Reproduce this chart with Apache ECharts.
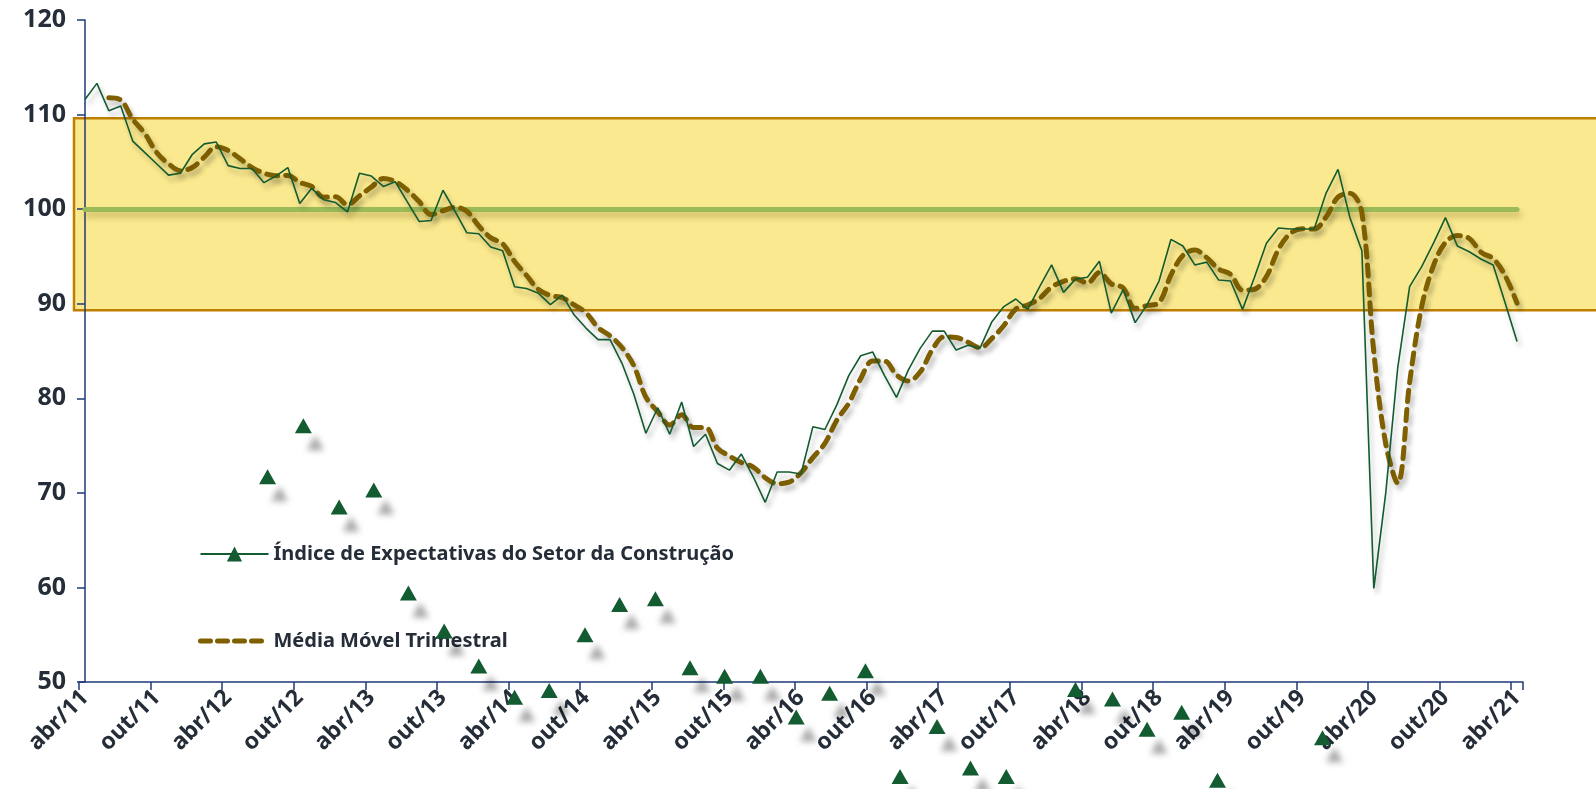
<!DOCTYPE html>
<html>
<head>
<meta charset="utf-8">
<script src="https://cdn.jsdelivr.net/npm/echarts/dist/echarts.min.js"></script>
<style>
  html, body { margin: 0; padding: 0; background: #fff; }
  #chart { width: 1596px; height: 789px; }
</style>
</head>
<body>
<div id="chart"></div>
<script>
// rótulos mensais abr/11 .. abr/21
var monthNames = ['jan', 'fev', 'mar', 'abr', 'mai', 'jun', 'jul', 'ago', 'set', 'out', 'nov', 'dez'];
var months = [];
for (var k = 0; k < 121; k++) {
    var m = (3 + k) % 12;
    var y = 11 + Math.floor((3 + k) / 12);
    months.push(monthNames[m] + '/' + y);
}

var idxName = 'Índice de Expectativas do Setor da Construção';
var maName = 'Média Móvel Trimestral';

// Índice de Expectativas (mensal)
var idxValues = [
    111.6, 113.3, 110.4, 110.9, 107.2, 106.0, 104.8, 103.6, 103.8, 105.8,
    106.9, 107.1, 104.6, 104.3, 104.3, 102.8, 103.5, 104.4, 100.6, 102.2,
    101.0, 100.7, 99.7, 103.8, 103.5, 102.4, 102.9, 100.8, 98.7, 98.8,
    102.0, 99.8, 97.5, 97.4, 96.0, 95.6, 91.8, 91.6, 91.1, 89.9,
    90.9, 88.8, 87.4, 86.2, 86.2, 83.7, 80.4, 76.3, 79.0, 76.2,
    79.6, 74.9, 76.2, 73.1, 72.4, 74.1, 71.7, 69.0, 72.2, 72.2,
    72.0, 77.0, 76.7, 79.3, 82.4, 84.5, 84.9, 82.4, 80.1, 83.0,
    85.3, 87.1, 87.1, 85.1, 85.6, 85.3, 88.1, 89.7, 90.5, 89.4,
    91.8, 94.1, 91.2, 92.6, 92.8, 94.5, 89.0, 91.5, 88.0, 89.9,
    92.4, 96.8, 96.1, 94.1, 94.4, 92.5, 92.4, 89.4, 92.8, 96.4,
    98.0, 97.9, 97.9, 97.9, 101.7, 104.2, 99.1, 95.6, 59.9, 70.0,
    83.2, 91.8, 93.9, 96.4, 99.1, 96.1, 95.5, 94.7, 94.1, 90.1, 86.0
];

// Média móvel trimestral
var maValues = [
    null, null,
    111.77, 111.53, 109.5, 108.03, 106.0, 104.8, 104.07, 104.4, 105.5, 106.6,
    106.2, 105.33, 104.4, 103.8, 103.53, 103.57, 102.83, 102.4, 101.27, 101.3,
    100.47, 101.4, 102.33, 103.23, 102.93, 102.03, 100.8, 99.43, 99.83, 100.2,
    99.77, 98.23, 96.97, 96.33, 94.47, 93.0, 91.5, 90.87, 90.63, 89.87,
    89.03, 87.47, 86.6, 85.37, 83.43, 80.13, 78.57, 77.17, 78.27, 76.9,
    76.9, 74.73, 73.9, 73.2, 72.73, 71.6, 70.97, 71.13, 72.13, 73.73,
    75.23, 77.67, 79.47, 82.07, 83.93, 83.93, 82.47, 81.83, 82.8, 85.13,
    86.5, 86.43, 85.93, 85.33, 86.33, 87.7, 89.43, 89.87, 90.57, 91.77,
    92.37, 92.63, 92.2, 93.3, 92.1, 91.67, 89.5, 89.8, 90.1, 93.03,
    95.1, 95.67, 94.87, 93.67, 93.1, 91.43, 91.53, 92.87, 95.73, 97.43,
    97.93, 97.9, 99.17, 101.27, 101.67, 99.63, 84.87, 75.17, 71.03, 81.67,
    89.63, 94.03, 96.47, 97.2, 96.9, 95.43, 94.77, 92.97, 90.07
];

// marcadores soltos (triângulos) - posição em meses e valor
var markerX = [15.3, 18.3, 21.3, 24.2, 27.1, 30.1, 33.0, 36.0, 38.9, 41.9,
    44.8, 47.8, 50.7, 53.6, 56.6, 59.6, 62.4, 65.4, 68.3, 71.4,
    74.2, 77.2, 83.0, 86.1, 89.0, 91.9, 94.9, 103.7];
var markerY = [71.7, 77.1, 68.5, 70.3, 59.4, 55.4, 51.7, 48.4, 49.1, 55.0,
    58.2, 58.8, 51.5, 50.6, 50.6, 46.3, 48.8, 51.2, 40.0, 45.3,
    40.9, 40.0, 49.2, 48.2, 45.0, 46.8, 39.6, 44.1];

var refLevel = 100;
var bandTop = 109.6;
var bandBottom = 89.3;

var yTicks = [50, 120, 10]; // min, max, intervalo

var markerData = markerX.map(function (x, i) { return [x, markerY[i]]; });

var textColor = '#252d38';
var axisColor = '#1f3a78';
var font = '"Noto Sans", "Open Sans", sans-serif';

var chart = echarts.init(document.getElementById('chart'), null, {renderer: 'canvas'});
var option = {
    animation: false,
    backgroundColor: '#ffffff',
    grid: {
        left: 79,
        top: 20,
        width: 1444,
        height: 662,
        containLabel: false,
        outerBoundsMode: 'none'
    },
    legend: {
        orient: 'vertical',
        left: 193,
        top: 539,
        itemWidth: 68,
        itemHeight: 19,
        itemGap: 67,
        textStyle: {
            color: textColor,
            fontFamily: font,
            fontWeight: 'bold',
            fontSize: 20
        },
        data: [
            {name: idxName},
            {
                name: maName,
                itemStyle: {color: 'rgba(0,0,0,0)'},
                lineStyle: {width: 5, type: [10, 7], cap: 'round', shadowBlur: 0, shadowOffsetX: 0, shadowOffsetY: 0}
            }
        ]
    },
    xAxis: [
        {
            type: 'category',
            data: months,
            boundaryGap: true,
            axisLine: {lineStyle: {color: axisColor, width: 1.5}},
            axisTick: {show: true, interval: 5, length: 8, lineStyle: {color: axisColor, width: 1.5}},
            axisLabel: {
                interval: 5,
                rotate: 45,
                margin: 12,
                color: textColor,
                fontFamily: font,
                fontWeight: 'bold',
                fontSize: 23
            },
            splitLine: {show: false}
        },
        {
            type: 'value',
            min: -0.5,
            max: 120.5,
            show: false
        }
    ],
    yAxis: {
        type: 'value',
        min: yTicks[0],
        max: yTicks[1],
        interval: yTicks[2],
        axisLine: {show: true, lineStyle: {color: axisColor, width: 1.5}},
        axisTick: {show: true, length: 8, lineStyle: {color: axisColor, width: 1.5}},
        axisLabel: {
            margin: 13,
            color: textColor,
            fontFamily: font,
            fontWeight: 'bold',
            fontSize: 25
        },
        splitLine: {show: false}
    },
    series: [
        {
            name: idxName,
            type: 'line',
            data: idxValues,
            symbol: 'triangle',
            showSymbol: false,
            itemStyle: {color: '#135b30'},
            lineStyle: {
                color: '#135b30',
                width: 1.6,
                shadowColor: 'rgba(0,0,0,0.28)',
                shadowBlur: 5,
                shadowOffsetX: 3,
                shadowOffsetY: 5
            },
            z: 4,
            markLine: {
                silent: true,
                symbol: 'none',
                label: {show: false},
                lineStyle: {
                    color: '#9bbb59',
                    width: 5,
                    type: 'solid',
                    cap: 'round',
                    shadowColor: 'rgba(110,90,20,0.35)',
                    shadowBlur: 6,
                    shadowOffsetX: 2,
                    shadowOffsetY: 5
                },
                data: [[{coord: [0, refLevel]}, {coord: [120, refLevel]}]],
                z: 1
            }
        },
        {
            name: maName,
            type: 'line',
            data: maValues,
            symbol: 'none',
            smooth: 0.35,
            itemStyle: {color: '#7f6000'},
            lineStyle: {
                color: '#7f6000',
                width: 5,
                type: [11, 8],
                cap: 'round',
                shadowColor: 'rgba(0,0,0,0.25)',
                shadowBlur: 5,
                shadowOffsetX: 3,
                shadowOffsetY: 5
            },
            z: 3
        },
        {
            type: 'scatter',
            xAxisIndex: 1,
            data: markerData,
            symbol: 'triangle',
            symbolSize: [17, 15],
            clip: false,
            itemStyle: {
                color: '#135b30',
                opacity: 1,
                shadowColor: 'rgba(0,0,0,0.35)',
                shadowBlur: 6,
                shadowOffsetX: 12,
                shadowOffsetY: 17
            },
            z: 5
        }
    ]
};
chart.setOption(option);

// faixa amarela entre os limites
var yTopPx = chart.convertToPixel({yAxisIndex: 0}, bandTop);
var yBotPx = chart.convertToPixel({yAxisIndex: 0}, bandBottom);
chart.setOption({
    graphic: [{
        type: 'rect',
        z: -1,
        silent: true,
        shape: {x: 74, y: yTopPx, width: 1600, height: yBotPx - yTopPx},
        style: {fill: '#fae98e', stroke: '#bf7f00', lineWidth: 2.5}
    }]
});
</script>
</body>
</html>
